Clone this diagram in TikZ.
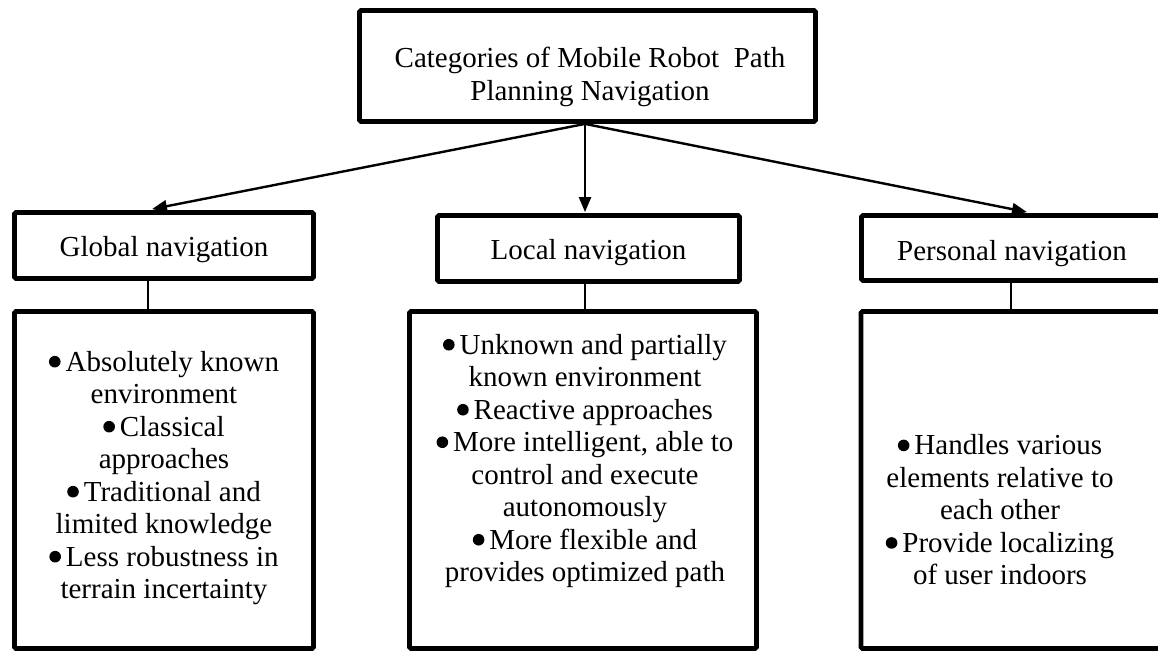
\documentclass[tikz,border=0pt]{standalone}
\usepackage{fontspec}
\setmainfont{Liberation Serif}
\usetikzlibrary{arrows.meta,calc}
\newcommand\bul{\tikz[baseline=0pt]\fill (5.5pt,9.5pt) circle (5.8pt);\hspace{5pt}}
\tikzset{
  heavybox/.style={draw, line width=4.8pt, rounded corners=1.5pt, inner sep=0pt, fill=white},
  txt/.style={align=center, inner sep=0pt, font=\fontsize{29}{32.5}\selectfont},
  cattxt/.style={inner sep=0pt, font=\fontsize{29}{32.5}\selectfont, text height=28pt, text depth=6.5pt},
  thinline/.style={line width=1.2pt},
  arrowline/.style={line width=2.4pt, -{Triangle[length=15pt,width=12pt]}},
}
\begin{document}
\begin{tikzpicture}[x=1pt,y=-1pt]
\useasboundingbox (0,0) rectangle (1158,653);
% top box
\node[heavybox, minimum width=456pt, minimum height=111pt] (top) at (587.5,66) {};
\node[txt] (toptxt) at (590,77) {Categories of Mobile Robot~~Path\\Planning Navigation};
% category boxes
\node[heavybox, minimum width=299pt, minimum height=66pt, cattxt] (gbox) at (164,245.5) {Global navigation};
\node[heavybox, minimum width=302pt, minimum height=66pt, cattxt] (lbox) at (588.5,248.5) {Local navigation};
\node[heavybox, minimum width=301pt, minimum height=65pt] (pbox) at (1012,248) {};
\node[cattxt] (ptxt) at (1012,250) {Personal navigation};
% detail boxes
\node[heavybox, minimum width=299pt, minimum height=337pt] (gdet) at (164,480) {};
\node[heavybox, minimum width=347pt, minimum height=337pt] (ldet) at (583,480) {};
\node[heavybox, minimum width=302pt, minimum height=337pt] (pdet) at (1012,480) {};
\node[txt] (gtxt) at (164,478) {\bul Absolutely known\\environment\\\bul Classical\\approaches\\\bul Traditional and\\limited knowledge\\\bul Less robustness in\\terrain incertainty};
\node[txt] (ltxt) at (585,461) {\bul Unknown and partially\\known environment\\\bul Reactive approaches\\\bul More intelligent, able to\\control and execute\\autonomously\\\bul More flexible and\\provides optimized path};
\node[txt] (ptxt2) at (1000,510) {\bul Handles various\\elements relative to\\each other\\\bul Provide localizing\\of user indoors};
% thin connectors
\draw[thinline] ($(gbox.south)+(-16,0)$) -- ($(gdet.north)+(-16,0)$);
\draw[thinline] ($(lbox.south)+(-3.5,0)$) -- ($(ldet.north)+(2,0)$);
\draw[thinline] ($(pbox.south)+(-1,0)$) -- ($(pdet.north)+(-1,0)$);
% arrows
\coordinate (src) at ($(top.south)+(-2.5,0)$);
\draw[arrowline] (src) -- ($(gbox.north)+(-12,-1)$);
\draw[arrowline] (src) -- ($(lbox.north)+(-3.5,-1)$);
\draw[arrowline] (src) -- ($(pbox.north)+(15,-1)$);
\end{tikzpicture}
\end{document}
